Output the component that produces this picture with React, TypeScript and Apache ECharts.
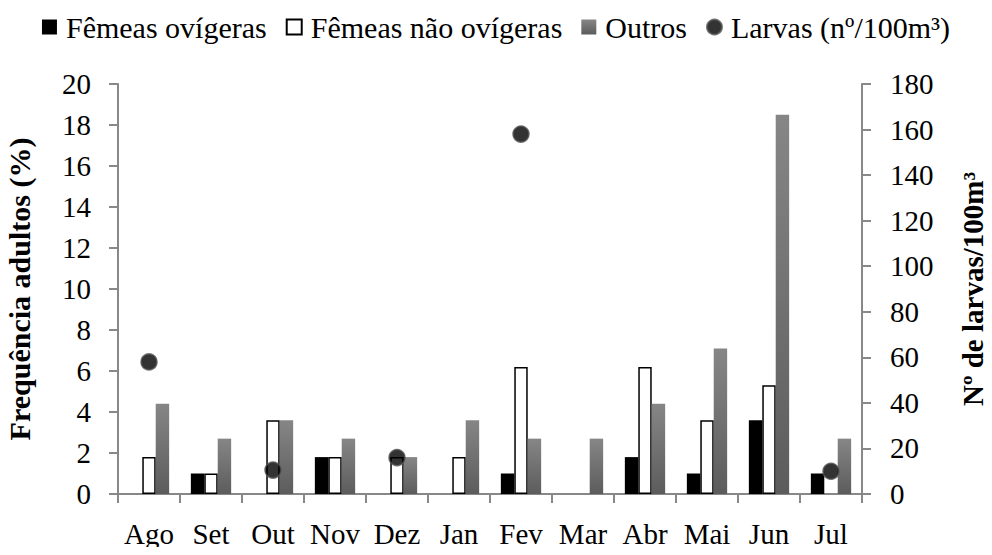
import React, { useEffect, useRef } from "react";
import * as echarts from "echarts";

const categories = ["Ago", "Set", "Out", "Nov", "Dez", "Jan", "Fev", "Mar", "Abr", "Mai", "Jun", "Jul"];
const femeasOvigeras = [null, 1, null, 1.8, null, null, 1, null, 1.8, 1, 3.6, 1];
const femeasNaoOvigeras = [1.8, 1, 3.6, 1.8, 1.8, 1.8, 6.2, null, 6.2, 3.6, 5.3, null];
const outros = [4.4, 2.7, 3.6, 2.7, 1.8, 3.6, 2.7, 2.7, 4.4, 7.1, 18.5, 2.7];
const larvas = [58, null, 10.5, null, 16, null, 158, null, null, null, null, 10];
const leftTicks = { min: 0, max: 20, interval: 2 };
const rightTicks = { min: 0, max: 180, interval: 20 };

const FONT = "Liberation Serif";
const AXIS_COLOR = "#888888";

export default function App() {
  const ref = useRef<HTMLDivElement>(null);
  useEffect(() => {
    if (!ref.current) return;
    const chart = echarts.init(ref.current, null, { renderer: "svg" });
    const grayGrad = new echarts.graphic.LinearGradient(0, 0, 0, 1, [
      { offset: 0, color: "#868686" },
      { offset: 1, color: "#5c5c5c" },
    ]);
    chart.setOption({
      animation: false,
      backgroundColor: "#ffffff",
      textStyle: { fontFamily: FONT, color: "#000" },
      legend: {
        top: 7,
        left: "center",
        itemWidth: 15,
        itemHeight: 15,
        itemGap: 19,
        textStyle: { fontFamily: FONT, fontSize: 30, color: "#000", padding: [0, 0, 0, 4] },
        data: [
          { name: "Fêmeas ovígeras", icon: "rect" },
          { name: "Fêmeas não ovígeras", icon: "rect" },
          { name: "Outros", icon: "rect" },
          { name: "Larvas (nº/100m³)", icon: "circle" },
        ],
      },
      grid: { left: 118, right: 130, top: 84, bottom: 61, containLabel: false, outerBoundsMode: "none" },
      xAxis: {
        type: "category",
        data: categories,
        boundaryGap: true,
        axisLine: { lineStyle: { color: AXIS_COLOR, width: 2 } },
        axisTick: { show: true, length: 9, inside: false, alignWithLabel: false, lineStyle: { color: AXIS_COLOR, width: 2 } },
        axisLabel: { margin: 25, fontFamily: FONT, fontSize: 29, color: "#000", interval: 0 },
      },
      yAxis: [
        {
          type: "value",
          ...leftTicks,
          name: "Frequência adultos (%)",
          nameLocation: "middle",
          nameRotate: 90,
          nameGap: 84,
          nameTextStyle: { fontFamily: FONT, fontSize: 30, fontWeight: "bold", color: "#000" },
          splitLine: { show: false },
          axisLine: { show: true, lineStyle: { color: AXIS_COLOR, width: 2 } },
          axisTick: { show: true, length: 9, lineStyle: { color: AXIS_COLOR, width: 2 } },
          axisLabel: { margin: 27, fontFamily: FONT, fontSize: 29, color: "#000" },
        },
        {
          type: "value",
          ...rightTicks,
          position: "right",
          name: "Nº de larvas/100m³",
          nameLocation: "middle",
          nameRotate: 90,
          nameGap: 96,
          nameTextStyle: { fontFamily: FONT, fontSize: 29, fontWeight: "bold", color: "#000" },
          splitLine: { show: false },
          axisLine: { show: true, lineStyle: { color: AXIS_COLOR, width: 2 } },
          axisTick: { show: true, length: 9, lineStyle: { color: AXIS_COLOR, width: 2 } },
          axisLabel: { margin: 28, fontFamily: FONT, fontSize: 29, color: "#000" },
        },
      ],
      series: [
        {
          name: "Fêmeas ovígeras",
          type: "bar",
          data: femeasOvigeras,
          barGap: "0%",
          barCategoryGap: "35%",
          itemStyle: { color: "#000000" },
        },
        {
          name: "Fêmeas não ovígeras",
          type: "bar",
          data: femeasNaoOvigeras,
          barGap: "0%",
          barCategoryGap: "35%",
          itemStyle: { color: "#ffffff", borderColor: "#000000", borderWidth: 1.5 },
        },
        {
          name: "Outros",
          type: "bar",
          data: outros,
          barGap: "0%",
          barCategoryGap: "35%",
          itemStyle: { color: grayGrad },
        },
        {
          name: "Larvas (nº/100m³)",
          type: "scatter",
          yAxisIndex: 1,
          data: larvas,
          symbol: "circle",
          symbolSize: 16,
          z: 5,
          itemStyle: { color: "#000000", borderColor: "#555555", borderWidth: 1.5 },
        },
      ],
    });
    return () => chart.dispose();
  }, []);
  return <div ref={ref} style={{ width: 992, height: 555, margin: -8 }} />;
}
